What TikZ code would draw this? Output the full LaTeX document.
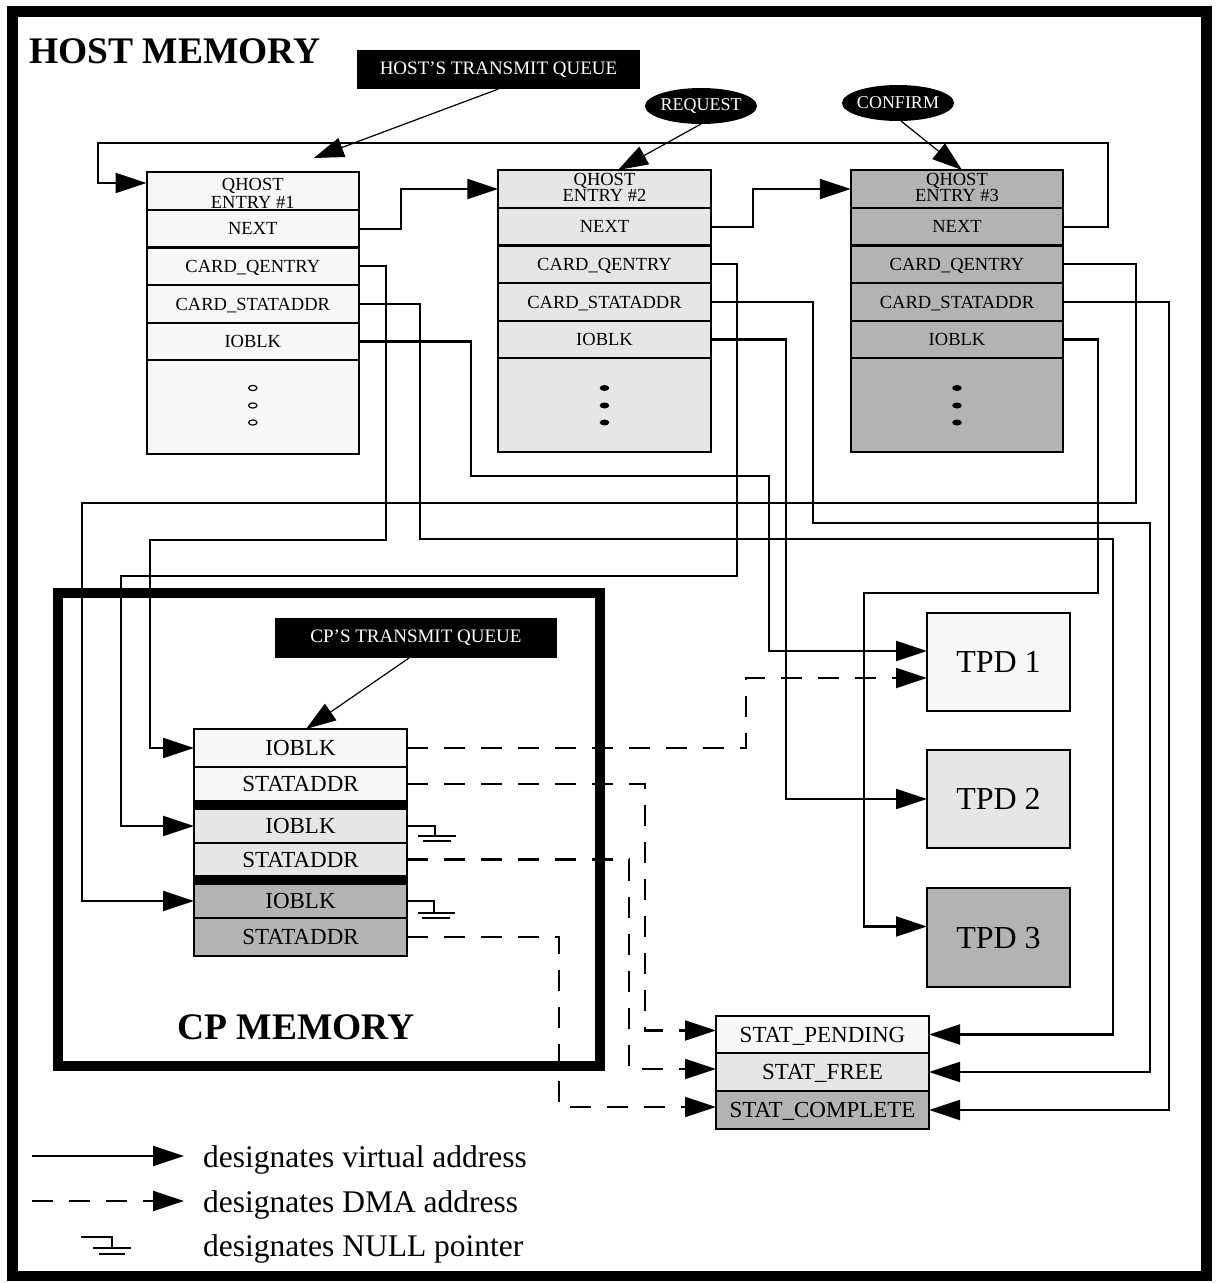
\documentclass[tikz,border=0pt]{standalone}
\usepackage{fontspec}
\setmainfont{Liberation Serif}
\usetikzlibrary{arrows.meta,calc,shapes.geometric}

\definecolor{shadeA}{HTML}{F7F7F7}
\definecolor{shadeB}{HTML}{E6E6E6}
\definecolor{shadeC}{HTML}{B3B3B3}

\newcommand\fsz[1]{\fontsize{#1}{#1}\selectfont}

\tikzset{
  cell/.style={draw, line width=2.1pt, rectangle, inner sep=0pt, outer sep=0pt,
    anchor=north, minimum width=212.5pt, text depth=0pt, font=\fsz{18.5}},
  cpcell/.style={cell, minimum width=213pt, font=\fsz{23}},
  tpdbox/.style={cell, anchor=north, minimum width=143pt, font=\fsz{32}},
  sepbar/.style={cell, fill=black, minimum width=213pt, minimum height=8pt},
  frame/.style={draw, line width=10.5pt, rectangle, inner sep=0pt, outer sep=0pt},
  wire/.style={line width=2.1pt},
  vptr/.style={wire, -{Triangle[length=31pt,width=20pt]}},
  dptr/.style={vptr, dash pattern=on 21pt off 16pt},
  thinptr/.style={line width=1.2pt, -{Triangle[length=30pt,width=20pt]}},
  tag/.style={fill=black, text=white, inner sep=0pt, outer sep=0pt,
    minimum width=283pt, minimum height=39pt, font=\fsz{19}},
  oval/.style={ellipse, fill=black, text=white, inner sep=0pt, inner xsep=-3pt,
    outer sep=0pt, minimum width=112pt, minimum height=36pt, font=\fsz{18}},
  hdr/.style={anchor=base, inner sep=0pt, text depth=0pt, font=\fsz{18.5}},
  legendtext/.style={anchor=base west, inner sep=0pt, font=\fsz{31.5}},
  title/.style={inner sep=0pt, font=\bfseries\fsz{37.5}},
}

% one QHOST entry: prefix, x centre, top, fill colour
\newcommand\hostentry[4]{%
  \node[cell, fill=#4, minimum height=38pt]   (#1head) at (#2,#3) {};
  \node[cell, fill=#4, minimum height=37.5pt] (#1next) at (#1head.south) {NEXT};
  \node[cell, fill=#4, minimum height=37.5pt] (#1cq)   at (#1next.south) {CARD\_QENTRY};
  \node[cell, fill=#4, minimum height=38pt]   (#1cs)   at (#1cq.south) {CARD\_STATADDR};
  \node[cell, fill=#4, minimum height=37pt]   (#1io)   at (#1cs.south) {IOBLK};
  \node[cell, fill=#4, minimum height=94pt]   (#1tail) at (#1io.south) {};
}

\begin{document}
\begin{tikzpicture}[x=1pt, y=-1pt]
\useasboundingbox (0,0) rectangle (1218,1283);

% memory frames
\node[frame, minimum width=1194pt, minimum height=1264.5pt] (hostmem) at (609.5,643.75) {};
\node[frame, minimum width=542pt, minimum height=473pt] (cpmem) at (329,829.5) {};
\node[title, anchor=base west] (hosttitle) at (29,63) {HOST MEMORY};
\node[title, anchor=base] (cptitle) at (296,1039) {CP MEMORY};

% host queue entries
\hostentry{ha}{252.8}{172}{shadeA}
\hostentry{hb}{604.5}{170}{shadeB}
\hostentry{hc}{957}{170}{shadeC}

\node[hdr] (haq) at (252.8,190) {QHOST};
\node[hdr] (hae) at (252.8,208) {ENTRY \#1};
\node[hdr] (hbq) at (604.5,185) {QHOST};
\node[hdr] (hbe) at (604.5,201) {ENTRY \#2};
\node[hdr] (hcq) at (957,185) {QHOST};
\node[hdr] (hce) at (957,201) {ENTRY \#3};

% continuation marks
\foreach \yy in {388,405.5,422.5} {
  \draw[line width=1.2pt] (252.8,\yy) ellipse [x radius=4.2pt, y radius=2.6pt];
  \fill (604.5,\yy) ellipse [x radius=4.8pt, y radius=3pt];
  \fill (957,\yy) ellipse [x radius=4.8pt, y radius=3pt];
}

% queue heads
\node[tag] (hq) at (498.5,69.5) {HOST’S TRANSMIT QUEUE};
\node[oval] (req) at (701,106) {REQUEST};
\node[oval] (conf) at (898,103) {CONFIRM};
\node[tag, minimum width=282pt, minimum height=40pt] (cq) at (416,638) {CP’S TRANSMIT QUEUE};

% transmit packet descriptors
\node[tpdbox, fill=shadeA, minimum height=98pt] (tpdA) at (998.5,613) {TPD 1};
\node[tpdbox, fill=shadeB, minimum height=98pt] (tpdB) at (998.5,750) {TPD 2};
\node[tpdbox, fill=shadeC, minimum height=99pt] (tpdC) at (998.5,888) {TPD 3};

% status words
\node[cpcell, fill=shadeA, minimum height=37pt] (spend) at (822.5,1016) {STAT\_PENDING};
\node[cpcell, fill=shadeB, minimum height=38pt] (sfree) at (spend.south) {STAT\_FREE};
\node[cpcell, fill=shadeC, minimum height=38pt] (scomp) at (sfree.south) {STAT\_COMPLETE};

% CP queue entries
\node[cpcell, fill=shadeA, minimum height=38pt] (cAio) at (300.5,729) {IOBLK};
\node[cpcell, fill=shadeA, minimum height=34pt] (cAsa) at (cAio.south) {STATADDR};
\node[sepbar] (cbarA) at (cAsa.south) {};
\node[cpcell, fill=shadeB, minimum height=34pt] (cBio) at (cbarA.south) {IOBLK};
\node[cpcell, fill=shadeB, minimum height=33pt] (cBsa) at (cBio.south) {STATADDR};
\node[sepbar] (cbarB) at (cBsa.south) {};
\node[cpcell, fill=shadeC, minimum height=34pt] (cCio) at (cbarB.south) {IOBLK};
\node[cpcell, fill=shadeC, minimum height=38pt] (cCsa) at (cCio.south) {STATADDR};

% queue head pointers
\draw[thinptr] (hq.south) -- ($(hahead.north)+(61,-14)$);
\draw[thinptr] (req.south) -- ([xshift=13.5pt]hbhead.north);
\draw[thinptr] ([xshift=3pt]conf.south) -- ([xshift=5pt]hchead.north);
\draw[thinptr] ([xshift=-7pt]cq.south) -- ([xshift=5.5pt]cAio.north);

% NEXT links
\draw[vptr] (hanext.east) -- ++(42,0) |- (hbhead.west);
\draw[vptr] (hbnext.east) -- ++(42,0) |- (hchead.west);
\draw[vptr] (hcnext.east) -| (1108,143) -| ([xshift=-49pt,yshift=8pt]hahead.west)
  -- ([yshift=8pt]hahead.west);

% entry #1 pointers
\draw[vptr] (hacq.east) -| (386,540) -| ([xshift=-44pt]cAio.west) -- (cAio.west);
\draw[vptr] (hacs.east) -| (420,539) -| ([xshift=184pt]spend.east) -- (spend.east);
\draw[vptr] (haio.east) -| (471,476) -| ([xshift=-158pt,yshift=11pt]tpdA.west)
  -- ([yshift=11pt]tpdA.west);

% entry #2 pointers
\draw[vptr] (hbcq.east) -| (737,576) -| ([xshift=-73pt]cBio.west) -- (cBio.west);
\draw[vptr] (hbcs.east) -| (813,523) -| ([xshift=221pt]sfree.east) -- (sfree.east);
\draw[vptr] (hbio.east) -| ([xshift=-141pt]tpdB.west) -- (tpdB.west);

% entry #3 pointers
\draw[vptr] (hccq.east) -| (1136,503) -| ([xshift=-112pt]cCio.west) -- (cCio.west);
\draw[vptr] (hccs.east) -| ([xshift=240pt]scomp.east) -- (scomp.east);
\draw[vptr] (hcio.east) -| (1098,593) -| ([xshift=-63pt,yshift=11pt]tpdC.west)
  -- ([yshift=11pt]tpdC.west);

% DMA addresses held by the CP
\draw[dptr] (cAio.east) -| ([xshift=-181pt,yshift=-16pt]tpdA.west) -- ([yshift=-16pt]tpdA.west);
\draw[dptr] (cAsa.east) -| ([xshift=-71pt,yshift=4pt]spend.west) -- ([yshift=4pt]spend.west);
\draw[dptr] (cBsa.east) -| ([xshift=-87pt,yshift=3pt]sfree.west) -- ([yshift=3pt]sfree.west);
\draw[dptr] (cCsa.east) -| ([xshift=-157pt,yshift=3pt]scomp.west) -- ([yshift=3pt]scomp.west);

% NULL pointers
\draw[wire] (cBio.east) -| ++(28,10) coordinate (gB);
\draw[wire] ($(gB)+(-17,0)$) -- ++(38,0);
\draw[wire] ($(gB)+(-12,5)$) -- ++(28,0);
\draw[wire] (cCio.east) -| ++(27,12) coordinate (gC);
\draw[wire] ($(gC)+(-16,0)$) -- ++(37,0);
\draw[wire] ($(gC)+(-12,5)$) -- ++(28,0);

% legend
\coordinate (lvA) at (32,1156);
\coordinate (lvB) at (184,1156);
\coordinate (ldA) at (32,1201);
\coordinate (ldB) at (184,1201);
\coordinate (lnA) at (81,1237);
\draw[vptr] (lvA) -- (lvB);
\draw[dptr] (ldA) -- (ldB);
\draw[wire] (lnA) -| ++(31,11) coordinate (lnG);
\draw[wire] ($(lnG)+(-19,0)$) -- ++(38,0);
\draw[wire] ($(lnG)+(-13,6)$) -- ++(26,0);
\node[legendtext] (lgv) at (203,1167) {designates virtual address};
\node[legendtext] (lgd) at (203,1212) {designates DMA address};
\node[legendtext] (lgn) at (203,1256) {designates NULL pointer};
\end{tikzpicture}
\end{document}
